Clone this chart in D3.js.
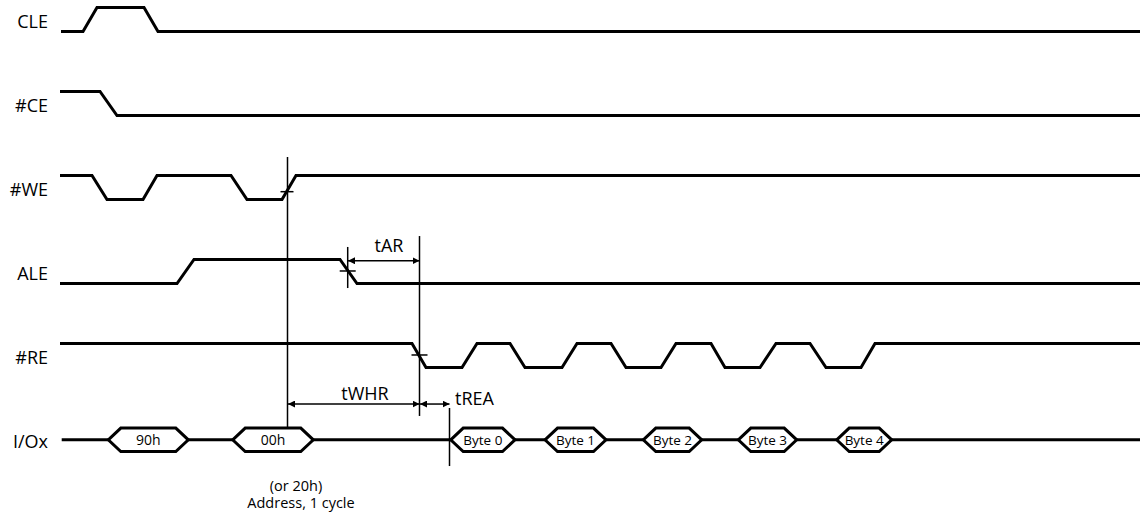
<!DOCTYPE html>
<html lang="en">
<head>
  <meta charset="UTF-8">
  <title>NAND Read ID timing</title>
  <script src="https://d3js.org/d3.v7.min.js"></script>
  <style>
    body { margin: 0; padding: 0; background: #fff; }
    svg { display: block; font-family: "Open Sans", sans-serif; }
    .wave { fill: none; stroke: #000; stroke-width: 3; stroke-linejoin: miter; }
    .bus { fill: #fff; stroke: #000; stroke-width: 3; }
    .mark { stroke: #000; stroke-width: 1.5; }
  </style>
</head>
<body>
<div id="chart"></div>
<script>
  // signal rows, top to bottom
  const signalNames = ["CLE", "#CE", "#WE", "ALE", "#RE", "I/Ox"];

  // waveforms as [time, level] pairs (level 1 = high)
  const cleWave = [[1,0],[23,0],[37,1],[84,1],[98,0],[1080,0]];
  const ceWave  = [[0,1],[40,1],[57,0],[1080,0]];
  const weWave  = [[0,1],[32,1],[47,0],[83,0],[97,1],[171,1],[187,0],[222,0],[236,1],[1080,1]];
  const aleWave = [[0,0],[117,0],[134,1],[280,1],[297,0],[1080,0]];
  const reWave  = [[0,1],[352,1],[366,0],[402,0],[417,1],[450,1],[465,0],[502,0],[517,1],
                   [551,1],[566,0],[601,0],[616,1],[651,1],[665,0],[700,0],[716,1],
                   [750,1],[766,0],[801,0],[815,1],[1080,1]];
  const waves = [cleWave, ceWave, weWave, aleWave, reWave];

  // I/O bus: data windows [start, end, label]
  const busStart = 1.7, busEnd = 1080;
  const busWindows = [
    [48.3, 128.3, "90h"],
    [172.7, 253.3, "00h"],
    [390.7, 455, "Byte 0"],
    [485, 546, "Byte 1"],
    [583.3, 641.7, "Byte 2"],
    [678.3, 736.7, "Byte 3"],
    [776.7, 831.7, "Byte 4"]
  ];

  // reference lines: time, top, bottom (in row units)
  const refLines = [
    [227.5, 1.494, 4.708],
    [359.5, 2.435, 4.577],
    [389.5, 4.482, 5.173],
    [287.7, 2.565, 3.054]
  ];
  // crossing ticks: time, row value, half width
  const crossTicks = [[227, 1.907, 6.5], [287.7, 2.851, 8], [359.5, 3.851, 8]];

  // timing arrows: from, to, row value, label, label anchor, label time, label row
  const timingArrows = [
    [288, 359.5, 2.729, "tAR", "middle", 329, 2.625],
    [228, 359.5, 4.435, "tWHR", "middle", 305, 4.387],
    [360, 389.5, 4.435, "tREA", "start", 395, 4.446]
  ];
  const noteLines = ["(or 20h)", "Address, 1 cycle"];

  const W = 1140, H = 519;
  const x = d3.scaleLinear().domain([0, 1080]).range([60, 1140]);
  // row r low level sits at y(r); high level 24px above
  const y = d3.scaleLinear().domain([0, 5]).range([31.5, 451.5]);
  const amp = 24;

  const svg = d3.select("#chart").append("svg")
    .attr("width", W).attr("height", H);

  // labels
  svg.append("g").selectAll("text")
    .data(signalNames).enter().append("text")
      .attr("x", 48)
      .attr("y", (d, i) => y(i) - 3.5)
      .attr("text-anchor", "end")
      .style("font-size", "18px")
      .text(d => d);

  // waveforms
  const line = d3.line();
  svg.append("g").selectAll("path")
    .data(waves).enter().append("path")
      .attr("class", "wave")
      .attr("d", (w, i) => line(w.map(p => [x(p[0]), y(i) - p[1] * amp])));

  // bus line + hexagons
  const busY = y(5) - 11.7, half = 11.7, slant = 12.5;
  svg.append("line").attr("class", "wave")
    .attr("x1", x(busStart)).attr("x2", x(busEnd))
    .attr("y1", busY).attr("y2", busY);

  const hex = svg.append("g").selectAll("g")
    .data(busWindows).enter().append("g");
  hex.append("path")
    .attr("class", "bus")
    .attr("d", d => {
      const a = x(d[0]), b = x(d[1]);
      return `M${a},${busY}L${a + slant},${busY - half}L${b - slant},${busY - half}` +
             `L${b},${busY}L${b - slant},${busY + half}L${a + slant},${busY + half}Z`;
    });
  hex.append("text")
    .attr("x", d => (x(d[0]) + x(d[1])) / 2)
    .attr("y", busY + 5)
    .attr("text-anchor", "middle")
    .style("font-size", d => d[2].startsWith("Byte") ? "13.5px" : "14px")
    .text(d => d[2]);

  // reference lines
  svg.append("g").selectAll("line")
    .data(refLines).enter().append("line")
      .attr("class", "mark")
      .attr("x1", d => x(d[0])).attr("x2", d => x(d[0]))
      .attr("y1", d => y(d[1])).attr("y2", d => y(d[2]));

  svg.append("g").selectAll("line")
    .data(crossTicks).enter().append("line")
      .attr("class", "mark")
      .attr("x1", d => x(d[0]) - d[2]).attr("x2", d => x(d[0]) + d[2])
      .attr("y1", d => y(d[1])).attr("y2", d => y(d[1]));

  // arrowheads
  const defs = svg.append("defs");
  defs.append("marker")
    .attr("id", "arr").attr("viewBox", "0 0 10 10")
    .attr("refX", 10).attr("refY", 5)
    .attr("markerWidth", 7).attr("markerHeight", 7)
    .attr("markerUnits", "userSpaceOnUse")
    .attr("orient", "auto-start-reverse")
    .append("path").attr("d", "M0,0L10,5L0,10Z").attr("fill", "#000");

  const arr = svg.append("g").selectAll("g")
    .data(timingArrows).enter().append("g");
  arr.append("line")
    .attr("class", "mark")
    .attr("x1", d => x(d[0])).attr("x2", d => x(d[1]))
    .attr("y1", d => y(d[2])).attr("y2", d => y(d[2]))
    .attr("marker-start", "url(#arr)")
    .attr("marker-end", "url(#arr)");
  arr.append("text")
    .attr("x", d => x(d[5]))
    .attr("y", d => y(d[6]))
    .attr("text-anchor", d => d[4])
    .style("font-size", "18px")
    .text(d => d[3]);

  // note under 00h
  svg.append("g").selectAll("text")
    .data(noteLines).enter().append("text")
      .attr("x", (d, i) => i === 0 ? 296 : 301)
      .attr("y", (d, i) => 491 + i * 17)
      .attr("text-anchor", "middle")
      .style("font-size", "14.5px")
      .text(d => d);
</script>
</body>
</html>
